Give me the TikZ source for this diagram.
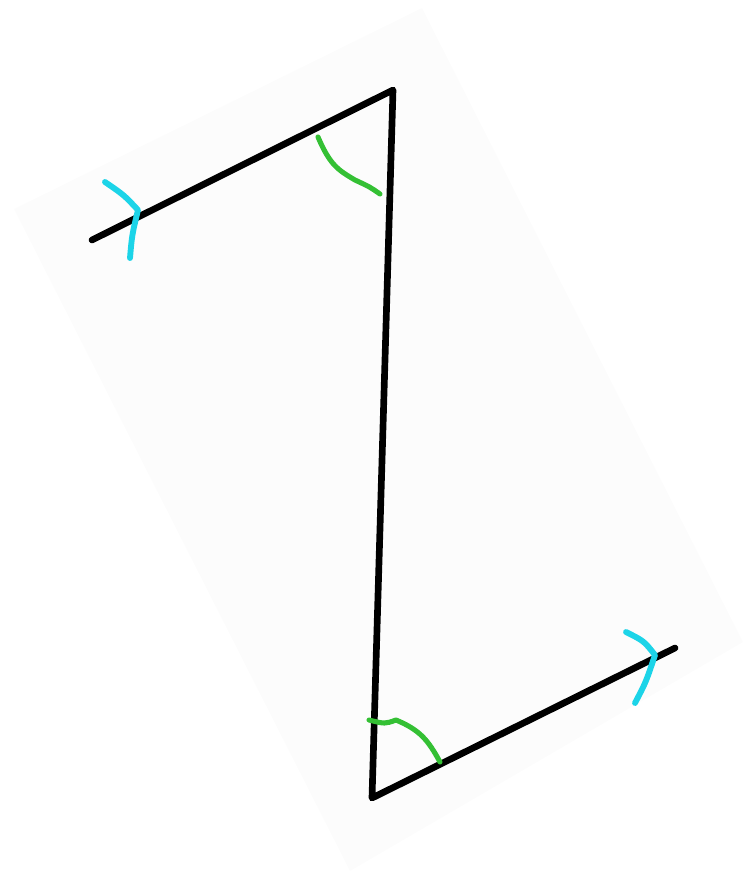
\documentclass[tikz,border=0pt]{standalone}
\usepackage{tikz}
\definecolor{zcyan}{RGB}{28,212,232}
\definecolor{zgreen}{RGB}{52,192,52}
\definecolor{zpaper}{RGB}{252,252,252}
\begin{document}
\begin{tikzpicture}[x=0.75pt,y=-0.75pt,line cap=round,line join=round]
  \tikzstyle{zline}=[draw=black,line width=5pt]
  \tikzstyle{parmark}=[draw=zcyan,line width=4.4pt]
  \tikzstyle{anglemark}=[draw=zgreen,line width=3.8pt]

  \useasboundingbox (0,0) rectangle (743,872);
  \fill[zpaper] (422,8) -- (743,642) -- (350,871) -- (14,209) -- cycle;

  \coordinate (start) at (92,240);
  \coordinate (top) at (393,90);
  \coordinate (bottom) at (372,798);
  \coordinate (finish) at (675,648);

  \draw[zline] (start) -- (top) -- (bottom) -- (finish);

  % parallel marks
  \draw[parmark] (105,182) .. controls (124,195) .. (138,210) .. controls (132,235) .. (130,258);
  \draw[parmark] (626,632) .. controls (644,641) .. (655,655) .. controls (646,682) .. (635,703);

  % equal angles
  \draw[anglemark] (318,137) .. controls (330,165) and (338,170) .. (355,180) .. controls (370,187) .. (380,194);
  \draw[anglemark] (369,720) .. controls (385,724) .. (396,720) .. controls (420,730) and (428,740) .. (440,762);
\end{tikzpicture}
\end{document}
